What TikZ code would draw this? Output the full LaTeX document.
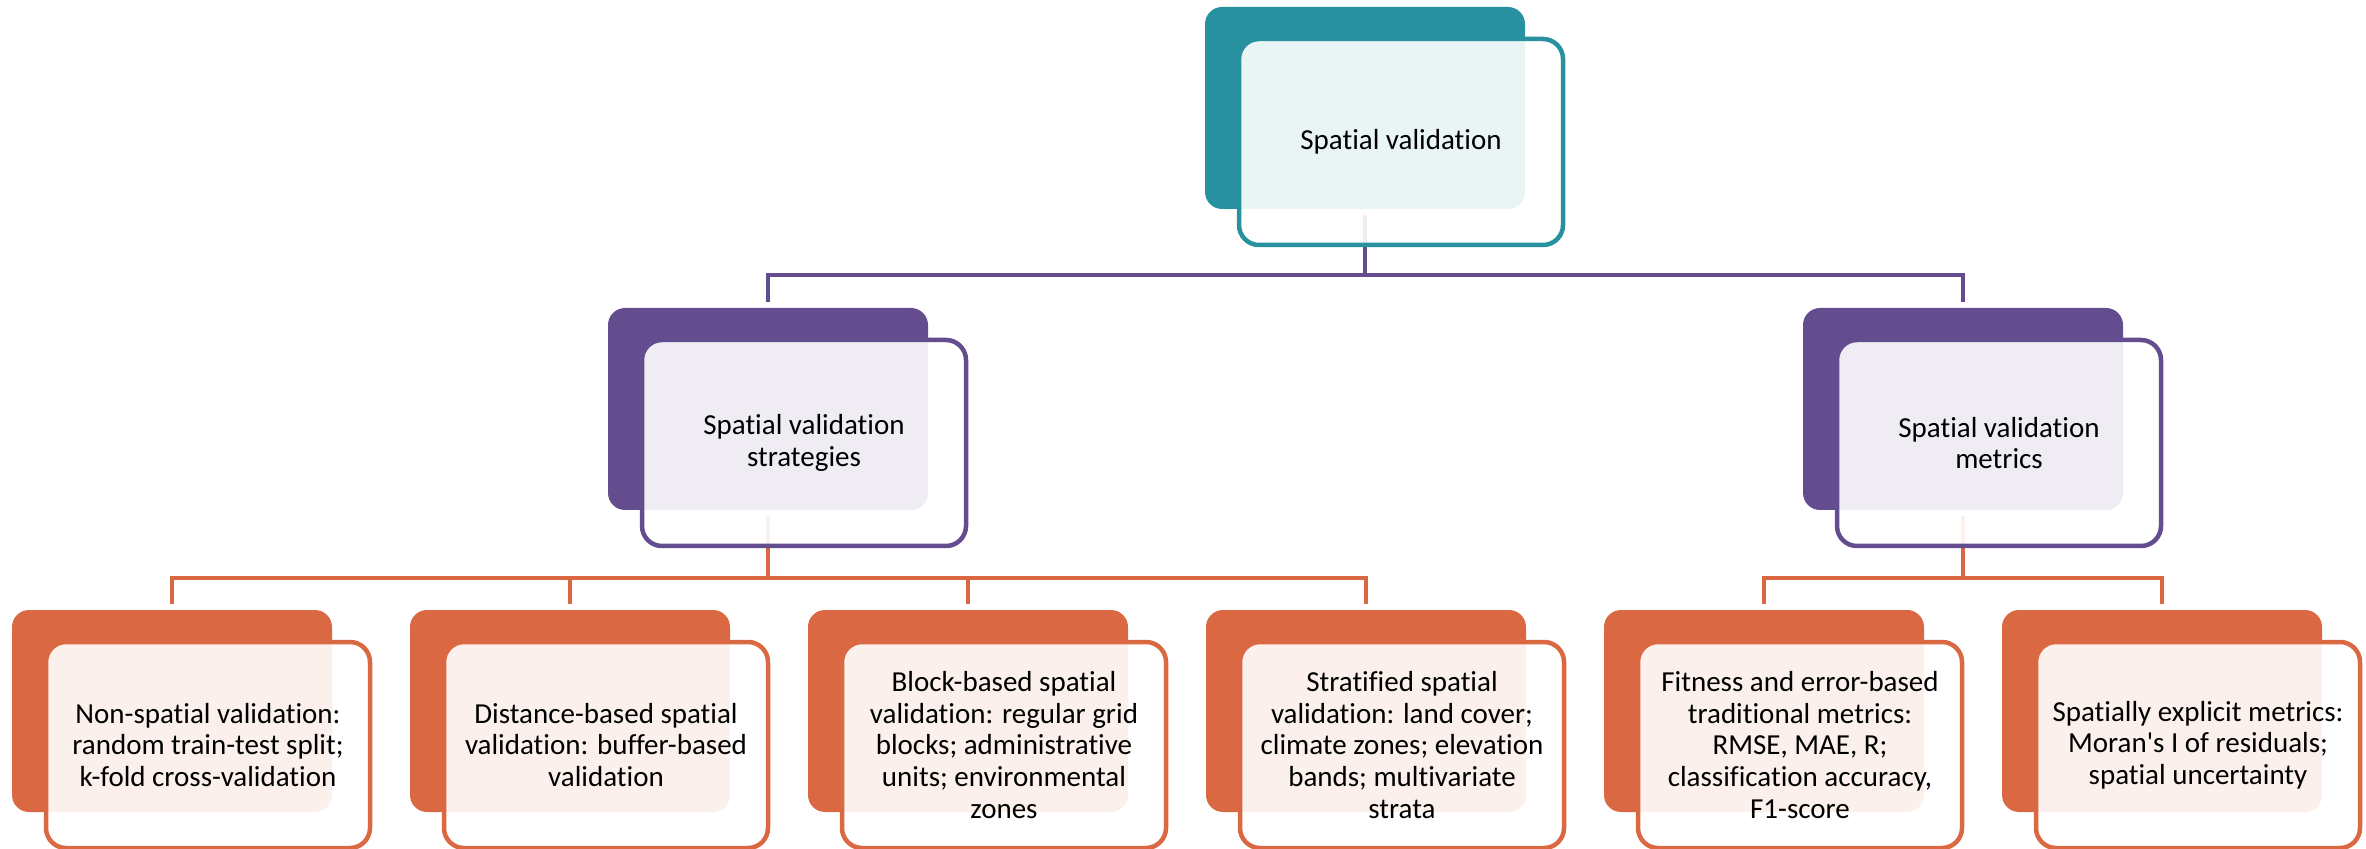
\documentclass[tikz,border=0pt]{standalone}
\usepackage{fontspec}
\setmainfont{Carlito}[Ligatures={NoCommon,TeXOff}]
\usepackage{tikz}
\definecolor{tealc}{RGB}{40,145,160}
\definecolor{purplec}{RGB}{99,77,142}
\definecolor{orangec}{RGB}{218,104,66}
\tikzstyle{back} = [rectangle, rounded corners=8.5pt, minimum width=160pt, minimum height=101pt, inner sep=0pt]
\tikzstyle{front} = [rectangle, rounded corners=10pt, minimum width=162pt, minimum height=103pt, line width=2.25pt, fill=white, fill opacity=0.9, text opacity=1, align=center, font=\fontsize{14.5}{15.85}\selectfont, xshift=18pt, yshift=-17pt]
\tikzstyle{link} = [line width=2pt]

\begin{document}
\begin{tikzpicture}[x=0.5pt, y=-0.5pt]
		\useasboundingbox (0,0) rectangle (2366,849);
		% back boxes
		\node[back, fill=tealc] (root) at (1365,108) {};
		\node[back, fill=purplec] (strat) at (768,409) {};
		\node[back, fill=purplec] (metr) at (1963,409) {};
		\node[back, fill=orangec] (nonsp) at (172,711) {};
		\node[back, fill=orangec] (dist) at (570,711) {};
		\node[back, fill=orangec] (block) at (968,711) {};
		\node[back, fill=orangec] (strata) at (1366,711) {};
		\node[back, fill=orangec] (fit) at (1764,711) {};
		\node[back, fill=orangec] (expl) at (2162,711) {};
		% connectors
		\coordinate (bus1) at (0,275);
		\coordinate (bus2) at (0,578);
		\draw[link, purplec, shorten <=3pt] (root.south) -- (root.south |- bus1);
		\draw[link, purplec, shorten <=3pt, shorten >=3pt] (strat.north) |- (root.south |- bus1) -| (metr.north);
		\draw[link, orangec, shorten <=3pt] (strat.south) -- (strat.south |- bus2);
		\draw[link, orangec, shorten <=3pt, shorten >=3pt] (nonsp.north) |- (strat.south |- bus2) -| (strata.north);
		\draw[link, orangec, shorten >=3pt] (dist.north |- bus2) -- (dist.north);
		\draw[link, orangec, shorten >=3pt] (block.north |- bus2) -- (block.north);
		\draw[link, orangec, shorten <=3pt] (metr.south) -- (metr.south |- bus2);
		\draw[link, orangec, shorten <=3pt, shorten >=3pt] (fit.north) |- (metr.south |- bus2) -| (expl.north);
		% front boxes
		\node[front, draw=tealc] (root-t) at (1365,108) {Spatial validation};
		\node[front, draw=purplec] (strat-t) at (768,409) {Spatial validation\\ strategies};
		\node[front, draw=purplec] (metr-t) at (1963,409) {Spatial validation\\ metrics};
		\node[front, draw=orangec] (nonsp-t) at (172,711) {Non-spatial validation:\\ random train-test split;\\ k-fold cross-validation};
		\node[front, draw=orangec] (dist-t) at (570,711) {Distance-based spatial\\ validation: buffer-based\\ validation};
		\node[front, draw=orangec] (block-t) at (968,711) {Block-based spatial\\ validation: regular grid\\ blocks; administrative\\ units; environmental\\ zones};
		\node[front, draw=orangec] (strata-t) at (1366,711) {Stratified spatial\\ validation: land cover;\\ climate zones; elevation\\ bands; multivariate\\ strata};
		\node[front, draw=orangec] (fit-t) at (1764,711) {Fitness and error-based\\ traditional metrics:\\ RMSE, MAE, R;\\ classification accuracy,\\ F1-score};
		\node[front, draw=orangec] (expl-t) at (2162,711) {Spatially explicit metrics:\\ Moran's I of residuals;\\ spatial uncertainty};
\end{tikzpicture}
\end{document}
